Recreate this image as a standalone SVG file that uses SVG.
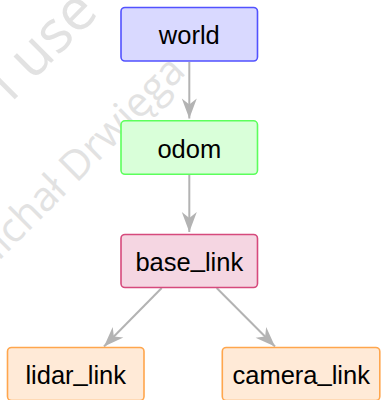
<svg xmlns="http://www.w3.org/2000/svg" width="381" height="400" viewBox="0 0 381 400">
  <style>
    .box { stroke-width: 1.6; }
    .label { font-family: "Liberation Sans", Arial, sans-serif; font-size: 25.5px; fill: #000; text-anchor: middle; }
    .mark { font-family: "Open Sans", "Liberation Sans", sans-serif; fill: #e2e2e2; text-anchor: end; }
    .edge { stroke: #b3b3b3; stroke-width: 2; fill: none; marker-end: url(#stealth); }
    .world { fill: #d9d9ff; stroke: #5252ff; }
    .odom { fill: #d9ffd9; stroke: #5cff5c; }
    .base { fill: #f5d6e2; stroke: #d64a7c; }
    .leaf { fill: #ffead7; stroke: #ffa64d; }
  </style>
  <defs>
    <marker id="stealth" markerUnits="userSpaceOnUse" viewBox="-21 -9 22 18" refX="0" refY="0" markerWidth="22" markerHeight="18" orient="auto">
      <path d="M0,0 L-20,-7.5 L-14,0 L-20,7.5 Z" fill="#b3b3b3"/>
    </marker>
  </defs>

  <rect width="381" height="400" fill="#fff"/>

  <!-- background watermark -->
  <g id="watermark">
    <text class="mark" font-size="58" transform="translate(100,14) rotate(-45)">l use</text>
    <text class="mark" font-size="41" transform="translate(187,73) rotate(-45)">Michał Drwięga</text>
  </g>

  <!-- connectors -->
  <g id="edges">
    <line class="edge" x1="189.3" y1="62" x2="189.3" y2="118.5"/>
    <line class="edge" x1="189.3" y1="175" x2="189.3" y2="232"/>
    <line class="edge" x1="161.7" y1="288" x2="104" y2="346.5"/>
    <line class="edge" x1="216.7" y1="288" x2="275" y2="346.5"/>
  </g>

  <g id="world">
    <rect class="box world" x="121" y="7.5" width="136.5" height="53.5" rx="4"/>
    <text class="label" x="189.3" y="44.3">world</text>
  </g>

  <g id="odom">
    <rect class="box odom" x="121" y="120.8" width="136.5" height="53.5" rx="4"/>
    <text class="label" x="189.3" y="157.7">odom</text>
  </g>

  <g id="base_link">
    <rect class="box base" x="121" y="234.5" width="136.5" height="53" rx="4"/>
    <text class="label" x="189.3" y="270.5">base<tspan dy="-3.5">_</tspan><tspan dy="3.5">link</tspan></text>
  </g>

  <g id="lidar_link">
    <rect class="box leaf" x="7.5" y="347.5" width="136.5" height="53" rx="4"/>
    <text class="label" x="75.7" y="384.3">lidar<tspan dy="-3.5">_</tspan><tspan dy="3.5">link</tspan></text>
  </g>

  <g id="camera_link">
    <rect class="box leaf" x="222.3" y="347.5" width="157.5" height="53" rx="4"/>
    <text class="label" x="301.2" y="384.3">camera<tspan dy="-3.5">_</tspan><tspan dy="3.5">link</tspan></text>
  </g>
</svg>
